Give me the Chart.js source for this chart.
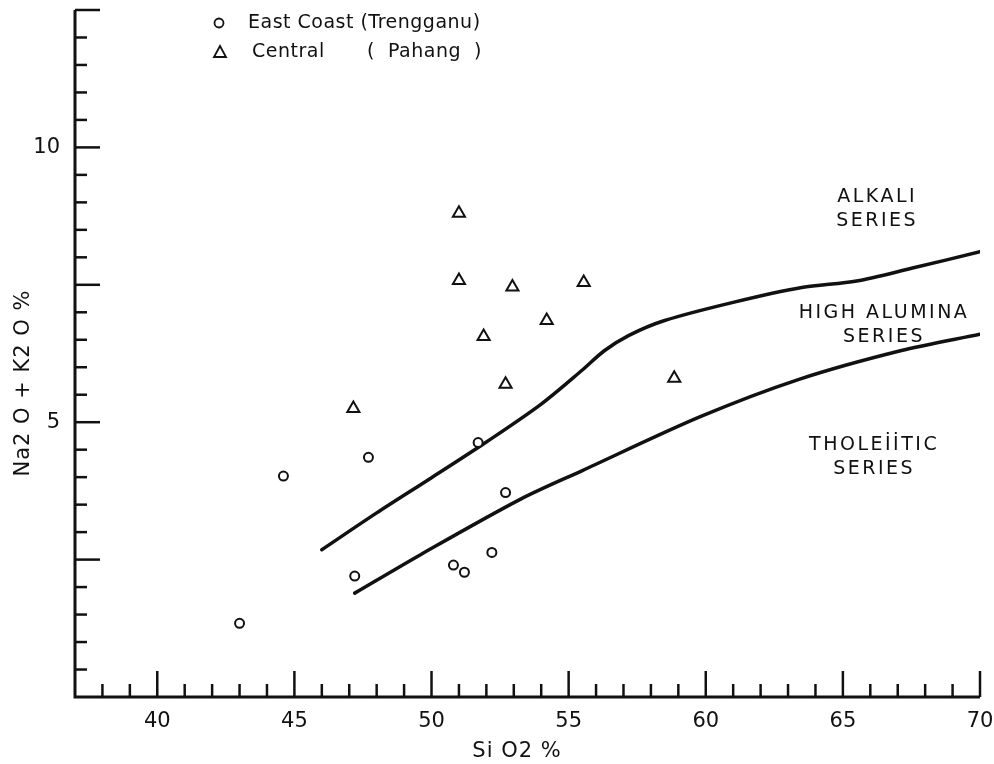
<!DOCTYPE html>
<html>
<head>
<meta charset="utf-8">
<script src="https://cdn.jsdelivr.net/npm/chart.js@4/dist/chart.umd.min.js"></script>
<style>
html, body { margin: 0; padding: 0; background: #fff; }
#wrap { width: 994px; height: 764px; }
</style>
</head>
<body>
<div id="wrap"><canvas id="chart" width="994" height="764"></canvas></div>
<script>
// East Coast (Trengganu) samples - circles
const eastSiO2 = [43.0, 44.6, 47.2, 47.7, 50.8, 51.2, 51.7, 52.2, 52.7];
const eastAlk = [1.34, 4.02, 2.2, 4.36, 2.4, 2.27, 4.63, 2.63, 3.72];

// Central (Pahang) samples - triangles
const centralSiO2 = [47.15, 51.0, 51.0, 51.9, 52.7, 52.95, 54.2, 55.55, 58.85];
const centralAlk = [5.25, 8.8, 7.58, 6.56, 5.69, 7.46, 6.85, 7.54, 5.8];

// boundary alkali / high alumina
const upperSiO2 = [46.0, 48.0, 50.0, 52.0, 54.0, 55.5, 56.3, 57.2, 58.5, 61.0, 63.5, 65.5, 67.5, 70.0];
const upperAlk = [2.68, 3.35, 3.99, 4.64, 5.33, 5.95, 6.3, 6.58, 6.85, 7.18, 7.45, 7.57, 7.8, 8.1];

// boundary high alumina / tholeiitic
const lowerSiO2 = [47.2, 49.6, 53.25, 55.5, 59.8, 63.4, 67.1, 70.0];
const lowerAlk = [1.89, 2.59, 3.6, 4.12, 5.1, 5.78, 6.3, 6.6];

const xLabelTicks = [40, 45, 50, 55, 60, 65, 70];
const yLabelTicks = [5, 10];

const legendLabels = ['East Coast (Trengganu)', 'Central', '(  Pahang  )'];
const fieldNames = [['ALKALI', 'SERIES'], ['HIGH ALUMINA', 'SERIES'], ['THOLEİİTIC', 'SERIES']];
const fieldSiO2 = [66.25, 66.5, 66.14];
const fieldAlk = [9.1, 6.99, 4.59];

const ink = '#111';
const font = '"DejaVu Sans", sans-serif';

function toPoints(xs, ys) {
    return xs.map((x, i) => ({ x: x, y: ys[i] }));
}

// axis frame with inward ticks, drawn from the scales
const framePlugin = {
    id: 'frame',
    afterDraw(chart) {
        const ctx = chart.ctx;
        const xs = chart.scales.x, ys = chart.scales.y;
        const area = chart.chartArea;
        ctx.save();
        ctx.strokeStyle = ink;
        ctx.lineWidth = 3;
        ctx.beginPath();
        ctx.moveTo(area.left, area.top);
        ctx.lineTo(area.left, area.bottom);
        ctx.lineTo(area.right, area.bottom);
        ctx.stroke();

        ctx.lineWidth = 2.5;
        xs.ticks.forEach(t => {
            if (t.value <= xs.min) return;
            const px = xs.getPixelForValue(t.value);
            const len = t.value % 5 === 0 ? 26 : 13;
            ctx.beginPath();
            ctx.moveTo(px, area.bottom);
            ctx.lineTo(px, area.bottom - len);
            ctx.stroke();
        });
        ys.ticks.forEach(t => {
            if (t.value <= ys.min) return;
            const py = ys.getPixelForValue(t.value);
            const len = t.value % 2.5 === 0 ? 25 : 12;
            ctx.beginPath();
            ctx.moveTo(area.left, py);
            ctx.lineTo(area.left + len, py);
            ctx.stroke();
        });

        // axis titles
        ctx.fillStyle = ink;
        ctx.textAlign = 'center';
        ctx.textBaseline = 'middle';
        ctx.font = '21px ' + font;
        ctx.letterSpacing = '1px';
        ctx.fillText('Si O2 %', 517, 752);
        ctx.save();
        ctx.translate(24, 383);
        ctx.rotate(-Math.PI / 2);
        ctx.fillText('Na2 O + K2 O %', 0, 0);
        ctx.restore();

        // legend
        ctx.lineWidth = 1.8;
        ctx.beginPath();
        ctx.arc(219, 23, 4.5, 0, Math.PI * 2);
        ctx.stroke();
        ctx.beginPath();
        ctx.moveTo(220, 46);
        ctx.lineTo(226, 57);
        ctx.lineTo(214, 57);
        ctx.closePath();
        ctx.stroke();
        ctx.textAlign = 'left';
        ctx.font = '19px ' + font;
        ctx.letterSpacing = '0.5px';
        ctx.fillText(legendLabels[0], 248, 23);
        ctx.fillText(legendLabels[1], 252, 52);
        ctx.fillText(legendLabels[2], 367, 52);

        // field names
        ctx.textAlign = 'center';
        ctx.font = '19px ' + font;
        ctx.letterSpacing = '2.5px';
        fieldNames.forEach((lines, i) => {
            const px = xs.getPixelForValue(fieldSiO2[i]);
            const py = ys.getPixelForValue(fieldAlk[i]);
            lines.forEach((s, j) => ctx.fillText(s, px, py + j * 24));
        });
        ctx.restore();
    }
};

function initializeChart() {
    const ctx = document.getElementById('chart').getContext('2d');
    new Chart(ctx, {
        type: 'scatter',
        data: {
            datasets: [
                {
                    label: legendLabels[0],
                    data: toPoints(eastSiO2, eastAlk),
                    pointStyle: 'circle',
                    pointRadius: 4.5,
                    borderWidth: 2,
                    borderColor: ink,
                    backgroundColor: '#fff',
                    order: 0
                },
                {
                    label: 'Central (Pahang)',
                    data: toPoints(centralSiO2, centralAlk),
                    pointStyle: 'triangle',
                    pointRadius: 7,
                    borderWidth: 2,
                    borderColor: ink,
                    backgroundColor: '#fff',
                    order: 0
                },
                {
                    label: 'upper boundary',
                    data: toPoints(upperSiO2, upperAlk),
                    showLine: true,
                    pointRadius: 0,
                    borderColor: ink,
                    borderWidth: 3.5,
                    borderCapStyle: 'round',
                    tension: 0.3,
                    order: 1
                },
                {
                    label: 'lower boundary',
                    data: toPoints(lowerSiO2, lowerAlk),
                    showLine: true,
                    pointRadius: 0,
                    borderColor: ink,
                    borderWidth: 3.5,
                    borderCapStyle: 'round',
                    tension: 0.3,
                    order: 1
                }
            ]
        },
        options: {
            responsive: false,
            animation: false,
            layout: { padding: { top: 10, right: 14, left: 0, bottom: 0 } },
            plugins: {
                legend: { display: false },
                tooltip: { enabled: false }
            },
            scales: {
                x: {
                    type: 'linear',
                    min: 37,
                    max: 70,
                    afterFit: s => { s.height = 67; s.paddingLeft = 0; s.paddingRight = 0; },
                    grid: { display: false, drawTicks: false },
                    border: { display: false },
                    ticks: {
                        stepSize: 1,
                        autoSkip: false,
                        maxRotation: 0,
                        padding: 12,
                        color: ink,
                        font: { family: font, size: 21 },
                        callback: v => xLabelTicks.includes(v) ? v : ''
                    }
                },
                y: {
                    min: 0,
                    max: 12.5,
                    afterFit: s => { s.width = 75; s.paddingTop = 0; s.paddingBottom = 0; },
                    grid: { display: false, drawTicks: false },
                    border: { display: false },
                    ticks: {
                        stepSize: 0.5,
                        autoSkip: false,
                        padding: 15,
                        color: ink,
                        font: { family: font, size: 21 },
                        callback: v => yLabelTicks.includes(v) ? v : ''
                    }
                }
            }
        },
        plugins: [framePlugin]
    });
}

document.addEventListener('DOMContentLoaded', initializeChart);
</script>
</body>
</html>
